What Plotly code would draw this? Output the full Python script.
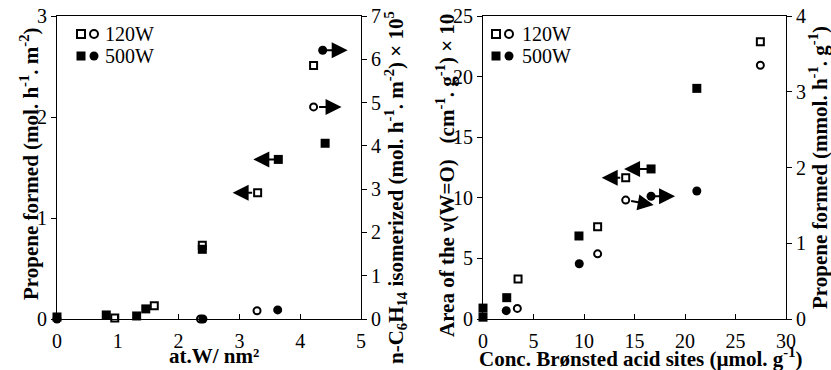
import plotly.graph_objects as go

W, H = 831, 370
ML, MR, MT, MB = 57, 45, 16, 51
PW = W - ML - MR
PH = H - MT - MB
FONT = "Liberation Serif, Times New Roman, serif"

# ---------------- Left panel data ----------------
l_x_sq_120 = [0.95, 1.60, 2.39, 3.30, 4.22]
l_y_sq_120 = [0.01, 0.13, 0.73, 1.25, 2.51]
l_x_sq_500 = [0.0, 0.81, 1.31, 1.46, 2.39, 3.64, 4.41]
l_y_sq_500 = [0.02, 0.04, 0.03, 0.10, 0.69, 1.58, 1.74]
l_x_ci_120 = [2.36, 3.29, 4.22]
l_y_ci_120 = [0.0, 0.19, 4.90]
l_x_ci_500 = [0.0, 2.40, 3.63, 4.37]
l_y_ci_500 = [0.0, 0.0, 0.21, 6.21]

# ---------------- Right panel data ----------------
r_x_sq_120 = [3.47, 11.35, 14.13, 27.46]
r_y_sq_120 = [3.30, 7.62, 11.66, 22.88]
r_x_sq_500 = [0.0, 0.0, 2.35, 9.50, 16.64, 21.17]
r_y_sq_500 = [0.15, 0.90, 1.76, 6.85, 12.38, 19.03]
r_x_ci_120 = [3.40, 11.35, 14.13, 27.46]
r_y_ci_120 = [0.14, 0.86, 1.57, 3.35]
r_x_ci_500 = [2.30, 9.53, 16.64, 21.17]
r_y_ci_500 = [0.11, 0.73, 1.62, 1.69]

legend_labels = ["120W", "500W"]

titles = {
    "lx": "<b>at.W/ nm²</b>",
    "ly": "<b>Propene formed (mol. h<sup>-1</sup>. m<sup>-2</sup>)</b>",
    "ly2": "<b>n-C<sub>6</sub>H<sub>14</sub> isomerized (mol. h<sup>-1</sup>. m<sup>-2</sup>) × 10<sup>5</sup></b>",
    "rx": "<b>Conc. Brønsted acid sites (µmol. g<sup>-1</sup>)</b>",
    "ry": "<b>Area of the ν(W=O)   (cm<sup>-1</sup>. g<sup>-1</sup>) × 10</b>",
    "ry2": "<b>Propene formed (mmol. h<sup>-1</sup>. g<sup>-1</sup>)</b>",
}

fig = go.Figure()

def add(x, y, xa, ya, symbol, size, lw=0):
    fig.add_trace(go.Scatter(
        x=x, y=y, xaxis=xa, yaxis=ya, mode="markers", showlegend=False,
        cliponaxis=False, hoverinfo="skip",
        marker=dict(symbol=symbol, size=size, color="black",
                    line=dict(color="black", width=lw))))

add(l_x_sq_120, l_y_sq_120, "x", "y", "square-open", 7, 2)
add(l_x_ci_120, l_y_ci_120, "x", "y2", "circle-open", 7, 2)
add(l_x_sq_500, l_y_sq_500, "x", "y", "square", 9)
add(l_x_ci_500, l_y_ci_500, "x", "y2", "circle", 9)

add(r_x_sq_120, r_y_sq_120, "x2", "y3", "square-open", 7, 2)
add(r_x_ci_120, r_y_ci_120, "x2", "y4", "circle-open", 7, 2)
add(r_x_sq_500, r_y_sq_500, "x2", "y3", "square", 9)
add(r_x_ci_500, r_y_ci_500, "x2", "y4", "circle", 9)

# arrows (pointing to the axis each series belongs to)
def arrow(x, y, xr, yr, dx, dy=0, start=0):
    fig.add_annotation(x=x, y=y, xref=xr, yref=yr, xshift=dx, yshift=-dy,
                       ax=-dx, ay=-dy, axref="pixel", ayref="pixel", text="",
                       showarrow=True, arrowhead=2, arrowsize=1.6, arrowwidth=2,
                       arrowcolor="black", startstandoff=start)

arrow(l_x_sq_120[3], l_y_sq_120[3], "x", "y", -25, 0, 4)
arrow(l_x_sq_500[5], l_y_sq_500[5], "x", "y", -25)
arrow(l_x_ci_120[2], l_y_ci_120[2], "x", "y2", 28, 0, 4)
arrow(l_x_ci_500[3], l_y_ci_500[3], "x", "y2", 25)

arrow(r_x_sq_120[2], r_y_sq_120[2], "x2", "y3", -24, 0, 4)
arrow(r_x_sq_500[4], r_y_sq_500[4], "x2", "y3", -27)
arrow(r_x_ci_120[2], r_y_ci_120[2], "x2", "y4", 28, 5, 4)
arrow(r_x_ci_500[2], r_y_ci_500[2], "x2", "y4", 24)

# pixel -> paper helpers (layout positions only)
def px(xp):
    return (xp - ML) / PW

def py(yp):
    return (H - MB - yp) / PH

shapes = []
for (sqx, cix, tx) in [(81, 94, 103), (496, 509, 520)]:
    for row, (yy, filled) in enumerate([(34, False), (56, True)]):
        s = 4 if not filled else 4.5
        fill = "black" if filled else "rgba(0,0,0,0)"
        shapes.append(dict(type="rect", xref="paper", yref="paper",
                           x0=px(sqx - s), x1=px(sqx + s), y0=py(yy + s), y1=py(yy - s),
                           line=dict(color="black", width=2 if not filled else 0),
                           fillcolor=fill))
        shapes.append(dict(type="circle", xref="paper", yref="paper",
                           x0=px(cix - s), x1=px(cix + s), y0=py(yy + s), y1=py(yy - s),
                           line=dict(color="black", width=2 if not filled else 0),
                           fillcolor=fill))
        fig.add_annotation(x=px(tx), y=py(yy), xref="paper", yref="paper",
                           text=legend_labels[row], showarrow=False,
                           xanchor="left", yanchor="middle",
                           font=dict(family=FONT, size=20, color="black"))

tfont = dict(family=FONT, size=21, color="black")
# axis titles as annotations: (key, x px, y px, angle)
for key, cx, cy, ang in [("lx", 214, 356, 0), ("ly", 29, 164, -90),
                         ("ly2", 395, 188, -90), ("rx", 641, 357, 0),
                         ("ry", 446, 176, -90), ("ry2", 818, 168, -90)]:
    fig.add_annotation(x=px(cx), y=py(cy), xref="paper", yref="paper",
                       text=titles[key], showarrow=False, textangle=ang,
                       xanchor="center", yanchor="middle", font=tfont)

ax_common = dict(showgrid=False, zeroline=False, showline=True, linecolor="black",
                 linewidth=1, tickcolor="black", ticklen=5, tickwidth=1,
                 tickfont=dict(family=FONT, size=20, color="black"), automargin=False)

d1 = (361 - ML) / PW
d2 = (483 - ML) / PW

fig.update_layout(
    width=W, height=H, margin=dict(l=ML, r=MR, t=MT, b=MB),
    paper_bgcolor="white", plot_bgcolor="white", showlegend=False,
    shapes=shapes,
    xaxis=dict(domain=[0, d1], anchor="y", range=[0, 5], dtick=1, ticks="inside",
               mirror=True, ticklabelstandoff=4, **ax_common),
    yaxis=dict(anchor="x", range=[0, 3], dtick=1, ticks="outside", **ax_common),
    yaxis2=dict(anchor="x", overlaying="y", side="right", range=[0, 7], dtick=1,
                ticks="outside", **ax_common),
    xaxis2=dict(domain=[d2, 1], anchor="y3", range=[0, 30], dtick=5, ticks="inside",
                mirror=True, ticklabelstandoff=4, **ax_common),
    yaxis3=dict(anchor="x2", range=[0, 25], dtick=5, ticks="outside", **ax_common),
    yaxis4=dict(anchor="x2", overlaying="y3", side="right", range=[0, 4], dtick=1,
                ticks="outside", **ax_common),
)

fig.write_html("out.html", config={"displayModeBar": False},
               post_script="document.body.style.margin='0px';document.body.style.overflow='hidden';")
